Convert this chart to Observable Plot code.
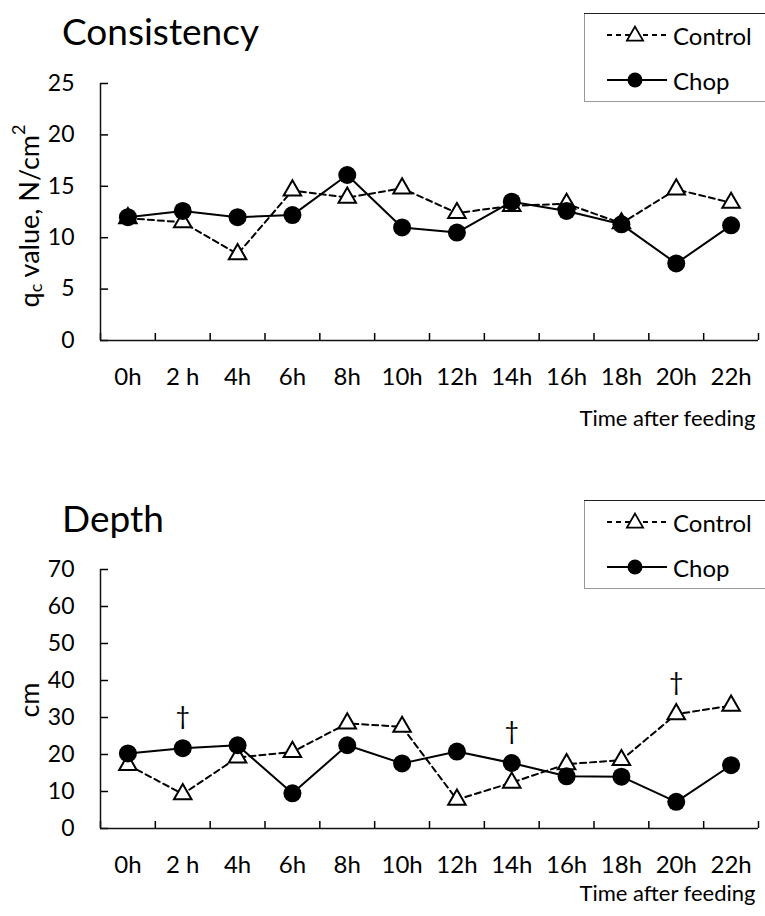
<!DOCTYPE html>
<html>
<head>
<meta charset="utf-8">
<script src="https://cdn.jsdelivr.net/npm/d3@7"></script>
<script src="https://cdn.jsdelivr.net/npm/@observablehq/plot@0.6"></script>
<style>
  body { margin: 0; background: #fff; font-family: Lato, sans-serif; }
  #wrap { position: relative; width: 765px; height: 916px; overflow: hidden; background: #fff; }
  .panel { position: absolute; left: 0; width: 765px; }
  .title { position: absolute; left: 62px; font-size: 37px; line-height: 1; color: #000; white-space: nowrap; }
  .legend { position: absolute; left: 584px; }
</style>
</head>
<body>
<div id="wrap"></div>
<script>
// ---- data ----
const times = ["0h", "2 h", "4h", "6h", "8h", "10h", "12h", "14h", "16h", "18h", "20h", "22h"];
const seriesNames = ["Control", "Chop"];

const consistencyControl = [11.9, 11.5, 8.4, 14.6, 13.9, 14.8, 12.4, 13.1, 13.3, 11.4, 14.7, 13.4];
const consistencyChop    = [12.0, 12.6, 12.0, 12.2, 16.1, 11.0, 10.5, 13.5, 12.6, 11.3, 7.5, 11.2];

const depthControl = [17.2, 9.3, 19.2, 20.7, 28.4, 27.5, 7.8, 12.4, 17.4, 18.5, 30.9, 33.2];
const depthChop    = [20.3, 21.7, 22.5, 9.5, 22.5, 17.6, 20.8, 17.7, 14.1, 14.0, 7.2, 17.1];

const depthMarked = ["2 h", "14h", "20h"]; // † markers

const consistencyTicks = [0, 5, 10, 15, 20, 25];
const depthTicks = [0, 10, 20, 30, 40, 50, 60, 70];

const xTitle = "Time after feeding";

// ---- drawing ----
function chart({control, chop, ticks, ymax, height, marginTop, marginBottom, marked, titleDy}) {
  const idx = d3.range(times.length);
  const bounds = d3.range(times.length + 1).map(i => i - 0.5);
  return Plot.plot({
    width: 765,
    height,
    marginLeft: 100,
    marginRight: 7,
    marginTop,
    marginBottom,
    style: {fontFamily: "Lato, sans-serif", color: "#000", background: "transparent", overflow: "visible"},
    x: {type: "linear", domain: [-0.5, times.length - 0.5]},
    y: {domain: [0, ymax]},
    marks: [
      Plot.axisY({ticks, tickSize: 0, tickPadding: 26, fontSize: 23, label: null}),
      Plot.axisY({ticks, tickSize: -8, tickFormat: () => "", label: null, strokeWidth: 1.5}),
      Plot.axisX({ticks: idx, tickSize: 0, tickPadding: 27, fontSize: 24, tickFormat: i => times[i], label: null}),
      Plot.axisX({ticks: bounds, tickSize: -7, tickFormat: () => "", label: null, strokeWidth: 1.5}),
      Plot.ruleX([-0.5], {strokeWidth: 1.5, stroke: "#111"}),
      Plot.ruleY([0], {strokeWidth: 1.5, stroke: "#111"}),
      Plot.lineY(control, {x: (d, i) => i, y: d => d, stroke: "black", strokeWidth: 2, strokeDasharray: "6,4"}),
      Plot.lineY(chop, {x: (d, i) => i, y: d => d, stroke: "black", strokeWidth: 2}),
      Plot.dot(control, {x: (d, i) => i, y: d => d, symbol: "triangle", r: 6.5, fill: "white", stroke: "black", strokeWidth: 2}),
      Plot.dot(chop, {x: (d, i) => i, y: d => d, r: 9, fill: "black"}),
      marked ? Plot.text(marked, {
        x: t => times.indexOf(t),
        y: t => Math.max(control[times.indexOf(t)], chop[times.indexOf(t)]),
        text: () => "†", dy: -31, fontSize: 25
      }) : null,
      Plot.text([xTitle], {text: d => d, frameAnchor: "bottom-right", textAnchor: "end", dx: -3, dy: titleDy, fontSize: 22})
    ]
  });
}

function legendSvg() {
  const svg = d3.create("svg").attr("width", 200).attr("height", 90).style("display", "block");
  svg.append("rect").attr("x", 0.5).attr("y", 0.5).attr("width", 220).attr("height", 88)
    .attr("fill", "white").attr("stroke", "#999");
  svg.append("line").attr("x1", 0).attr("x2", 200).attr("y1", 0.5).attr("y2", 0.5).attr("stroke", "#222");
  // Control
  svg.append("line").attr("x1", 23).attr("x2", 83).attr("y1", 22).attr("y2", 22)
    .attr("stroke", "black").attr("stroke-width", 2).attr("stroke-dasharray", "5,4");
  svg.append("path").attr("d", d3.symbol(d3.symbolTriangle, Math.PI * 6 * 6)()).attr("transform", "translate(51,23)")
    .attr("fill", "white").attr("stroke", "black").attr("stroke-width", 1.8);
  svg.append("text").attr("x", 89).attr("y", 22).attr("dominant-baseline", "central")
    .style("font-family", "Lato, sans-serif").style("font-size", "24px").text(seriesNames[0]);
  // Chop
  svg.append("line").attr("x1", 23).attr("x2", 83).attr("y1", 67).attr("y2", 67)
    .attr("stroke", "black").attr("stroke-width", 2);
  svg.append("circle").attr("cx", 51).attr("cy", 67).attr("r", 7.5).attr("fill", "black");
  svg.append("text").attr("x", 89).attr("y", 67).attr("dominant-baseline", "central")
    .style("font-family", "Lato, sans-serif").style("font-size", "24px").text(seriesNames[1]);
  return svg.node();
}

function yLabel(svgNode, cx, cy, parts) {
  const t = d3.select(svgNode).append("text")
    .attr("transform", `translate(${cx},${cy}) rotate(-90)`)
    .attr("text-anchor", "middle")
    .attr("dominant-baseline", "central")
    .style("font-family", "Lato, sans-serif").style("font-size", "27px").attr("fill", "black");
  for (const p of parts) {
    const s = t.append("tspan").text(p.text);
    if (p.dy) s.attr("dy", p.dy);
    if (p.size) s.style("font-size", p.size);
  }
}

const wrap = document.getElementById("wrap");

function panel(top, height, titleText, offset, plotEl, labelParts, labelY) {
  const p = document.createElement("div");
  p.className = "panel";
  p.style.top = top + "px";
  p.style.height = height + "px";
  p.appendChild(plotEl);
  plotEl.style.position = "absolute";
  plotEl.style.left = "0px";
  plotEl.style.top = "0px";
  yLabel(plotEl, 28, labelY, labelParts);
  const t = document.createElement("div");
  t.className = "title";
  t.style.top = (12 + offset) + "px";
  t.textContent = titleText;
  p.appendChild(t);
  const l = document.createElement("div");
  l.className = "legend";
  l.style.top = (13 + offset) + "px";
  l.appendChild(legendSvg());
  p.appendChild(l);
  wrap.appendChild(p);
}

const top1 = chart({control: consistencyControl, chop: consistencyChop, ticks: consistencyTicks, ymax: 25,
  height: 460, marginTop: 83, marginBottom: 120, titleDy: 85});
panel(0, 460, "Consistency", 0, top1,
  [{text: "q"}, {text: "c", dy: 7, size: "18px"}, {text: " value, N/cm", dy: -7}, {text: "2", dy: -10, size: "18px"}], 216);

const bot = chart({control: depthControl, chop: depthChop, ticks: depthTicks, ymax: 70,
  height: 456, marginTop: 109, marginBottom: 88, marked: depthMarked, titleDy: 72});
panel(460, 456, "Depth", 27, bot, [{text: "cm"}], 240);
</script>
</body>
</html>
